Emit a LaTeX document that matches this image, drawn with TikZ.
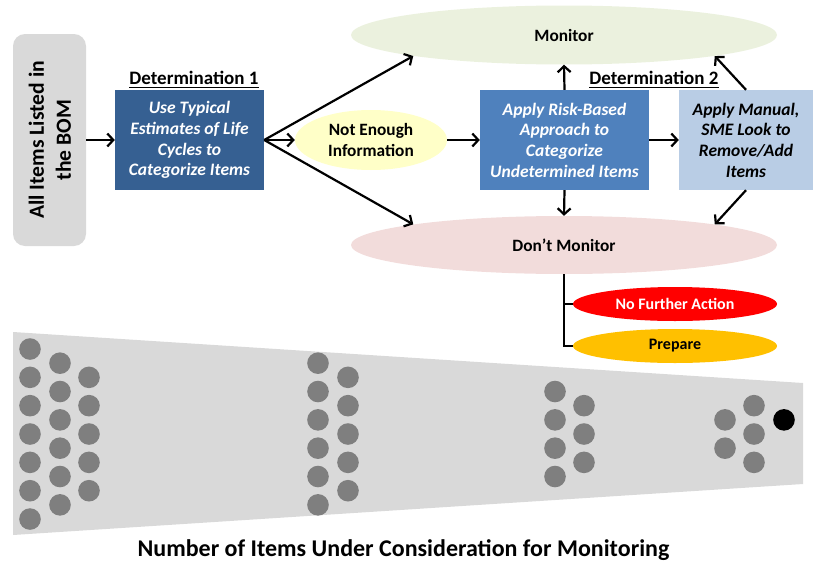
\documentclass[tikz,border=0pt]{standalone}
\usepackage{fontspec}
\setmainfont{Carlito}
\usetikzlibrary{arrows.meta,shapes.geometric}
\definecolor{lgray}{HTML}{D9D9D9}
\definecolor{dblue}{HTML}{366092}
\definecolor{mblue}{HTML}{4F81BD}
\definecolor{pblue}{HTML}{B9CDE5}
\definecolor{mongreen}{HTML}{EBF1DE}
\definecolor{dmpink}{HTML}{F2DCDB}
\definecolor{neyellow}{HTML}{FFFFC8}
\definecolor{nfared}{HTML}{FF0000}
\definecolor{prepor}{HTML}{FFC000}
\definecolor{dotgray}{HTML}{7F7F7F}
\begin{document}
\begin{tikzpicture}[x=1pt,y=-1pt,
  box/.style={rectangle, inner sep=0pt, align=center, font=\bfseries\itshape\fontsize{17.5}{20.7}\selectfont},
  oval/.style={ellipse, inner sep=0pt, align=center, font=\bfseries\fontsize{17.3}{21}\selectfont},
  arr/.style={draw, line width=2.2pt, -{Straight Barb[length=6pt,width=13pt]}},
  conn/.style={draw, line width=2.2pt},
  dethead/.style={inner sep=0pt, anchor=base, font=\bfseries\fontsize{19}{22}\selectfont}
]
\useasboundingbox (0,0) rectangle (813,562);

% funnel
\fill[lgray] (13,332) -- (803,383) -- (803,484) -- (13,535) -- cycle;
\foreach \x/\ks in {30/{0,2,4,6,8,10,12}, 60/{1,3,5,7,9,11}, 89/{2,4,6,8,10},
                    318/{1,3,5,7,9,11}, 348/{2,4,6,8,10},
                    555/{3,5,7,9}, 584/{4,6,8},
                    725/{5,7}, 754/{4,6,8}}{
  \foreach \k in \ks {
    \fill[dotgray] (\x,{349+14.17*\k}) ellipse (10.8pt and 10.8pt);
  }
}
\fill[black] (784,{349+14.17*5}) ellipse (10.8pt and 10.8pt);

% left box
\node[rectangle, rounded corners=12pt, fill=lgray, minimum width=73pt, minimum height=212pt, inner sep=0pt] (bom) at (49.5,140) {};
\node[rotate=90, align=center, inner sep=0pt, font=\bfseries\fontsize{21.6}{27}\selectfont] (bomtxt) at (50,140) {All Items Listed in\\the BOM};

% boxes
\node[box, fill=dblue, text=white, minimum width=149pt, minimum height=100pt] (b1) at (189.5,140) {Use Typical\\Estimates of Life\\Cycles to\\Categorize Items};
\node[box, fill=mblue, text=white, minimum width=169pt, minimum height=100pt] (b2) at (564.5,140) {Apply Risk-Based\\Approach to\\Categorize\\Undetermined Items};
\node[box, fill=pblue, text=black, minimum width=134pt, minimum height=100pt] (b3) at (746,140) {Apply Manual,\\SME Look to\\Remove/Add\\Items};

% headings
\node[dethead] (d1) at (194,84) {Determination 1};
\draw[line width=1.6pt] ([yshift=-3.5pt]d1.base west) -- ([yshift=-3.5pt]d1.base east);
\node[dethead] (d2) at (654,84) {Determination 2};
\draw[line width=1.6pt] ([yshift=-3.5pt]d2.base west) -- ([yshift=-3.5pt]d2.base east);

% ellipses
\node[oval, fill=mongreen, minimum width=426pt, minimum height=59pt] (mon) at (564,35) {Monitor};
\node[oval, fill=dmpink, minimum width=426pt, minimum height=58pt] (dm) at (564,245) {Don’t Monitor};
\node[oval, fill=neyellow, minimum width=152pt, minimum height=60pt] (ne) at (371,140) {Not Enough\\Information};
\node[oval, fill=nfared, text=white, minimum width=204pt, minimum height=34pt, font=\bfseries\fontsize{16}{19}\selectfont] (nfa) at (675,304) {No Further Action};
\node[oval, fill=prepor, text=black, minimum width=204pt, minimum height=34pt, font=\bfseries\fontsize{16}{19}\selectfont] (prep) at (675,346) {Prepare};

% arrows
\draw[arr] (bom.east) -- (b1.west);
\draw[arr] (b1.east) -- (mon.south west);
\draw[arr] (b1.east) -- (ne.west);
\draw[arr] (b1.east) -- (dm.north west);
\draw[arr] (ne.east) -- (b2.west);
\draw[arr] (b2.east) -- (b3.west);
\draw[arr] (b2.north) -- (mon.south);
\draw[arr] (b2.south) -- (dm.north);
\draw[arr] (b3.north) -- (mon.south east);
\draw[arr] (b3.south) -- (dm.north east);
\draw[conn] (dm.south) -- (dm.south |- prep.west) -- (prep.west);
\draw[conn] (dm.south |- nfa.west) -- (nfa.west);

% title
\node[anchor=base, inner sep=0pt, font=\bfseries\fontsize{24}{28}\selectfont] (title) at (403.5,556) {Number of Items Under Consideration for Monitoring};
\end{tikzpicture}
\end{document}
